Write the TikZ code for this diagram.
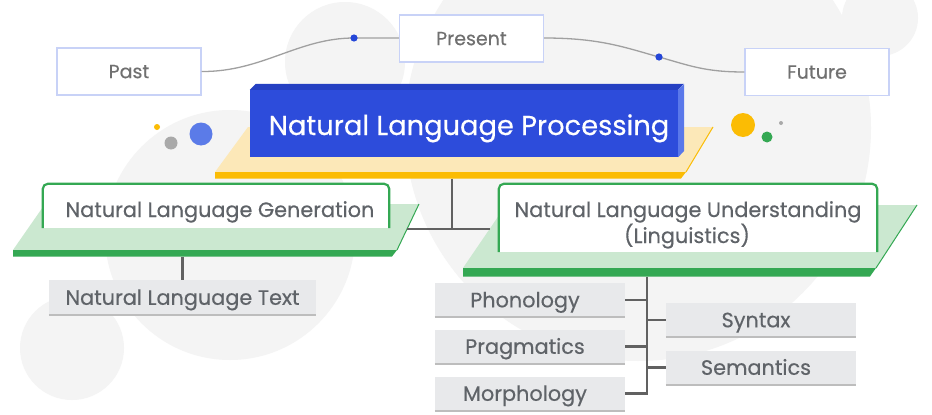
\documentclass[tikz,border=0pt]{standalone}
\usepackage{fontspec}
\setmainfont[FakeBold=0.4]{Poppins}
\definecolor{bgc}{HTML}{F4F4F4}
\definecolor{txtgray}{HTML}{5F6368}
\definecolor{tltext}{HTML}{707070}
\definecolor{tlborder}{HTML}{C8D2F7}
\definecolor{tlline}{HTML}{A0A0A0}
\definecolor{dotblue}{HTML}{2446D8}
\definecolor{nlpblue}{HTML}{2D4CDB}
\definecolor{nlptop}{HTML}{2540C2}
\definecolor{nlpside}{HTML}{5A78EA}
\definecolor{ylight}{HTML}{FCE8B8}
\definecolor{ydark}{HTML}{FBBC04}
\definecolor{glight}{HTML}{CBE8D0}
\definecolor{gdark}{HTML}{34A853}
\definecolor{boxgray}{HTML}{E8E9EB}
\definecolor{boxline}{HTML}{BDBDBD}
\definecolor{conncol}{HTML}{616161}
\definecolor{decblue}{HTML}{5B7BE8}
\definecolor{decgray}{HTML}{A9A9A9}
\begin{document}
\begin{tikzpicture}[x=1pt,y=-1pt,
  txt/.style={text=txtgray,font=\fontsize{20.8}{25}\selectfont,inner sep=0pt},
  graybox/.style={fill=boxgray,minimum width=190pt,minimum height=34pt,inner sep=0pt,
    text=txtgray,font=\fontsize{20.8}{25}\selectfont,text height=14.6pt,text depth=0pt},
  tlbox/.style={draw=tlborder,line width=1.2pt,fill=white,minimum width=144pt,minimum height=47pt,
    inner sep=0pt,text=tltext,font=\fontsize{19}{23}\selectfont,text height=13.3pt,text depth=0pt},
  tl/.style={draw=tlline,line width=1.3pt},
  wbox/.style={fill=white,inner sep=0pt},
  gborder/.style={draw=gdark,line width=2.2pt,rounded corners=5pt},
  conn/.style={draw=conncol,line width=2.2pt},
  bline/.style={draw=boxline,line width=2pt}]
\useasboundingbox (0,0) rectangle (932,415);
\clip (0,0) rectangle (932,415);
\fill[white] (0,0) rectangle (932,415);
% background circles
\fill[bgc] (638,128) circle (233);
\fill[bgc] (345,62) circle (60);
\fill[bgc] (230,235) circle (125);
\fill[bgc] (72,348) circle (52);
\fill[bgc] (880,18) circle (38);
% timeline
\node[tlbox] (past) at (129,71.5) {Past};
\node[tlbox] (present) at (471.5,38.5) {Present};
\node[tlbox] (future) at (817,72) {Future};
\coordinate (d1) at (354,38);
\coordinate (d2) at (659,57);
\draw[tl] (past.east) .. controls (262,72) and (298,38) .. (d1) -- (present.west |- d1);
\draw[tl] (present.east |- d1) .. controls (600,38) and (625,47.5) .. (d2) .. controls (690,65.7) and (705,72) .. (future.west);
\fill[dotblue] (d1) circle (3.6);
\fill[dotblue] (d2) circle (3.6);
% decorative dots
\fill[ydark] (157,127) circle (3);
\fill[decgray] (171,143) circle (6.5);
\fill[decblue] (201,134) circle (11.5);
\fill[ydark] (743,125) circle (12);
\fill[gdark] (767,137) circle (5.5);
\fill[decgray] (781,123) circle (2);
% yellow platform
\fill[ylight] (248,127) -- (713,127) -- (686,172) -- (215,172) -- cycle;
\fill[ydark] (215,172) -- (686,172) -- (681,178.5) -- (215,178.5) -- cycle;
\draw[ydark,line width=1pt] (686,172) -- (713,127);
% NLP block
\node[fill=nlpblue,minimum width=428pt,minimum height=67pt,inner sep=0pt] (nlp) at (464,123.5) {};
\fill[nlptop] (nlp.north west) -- ++(6,-6) -- ++(428,0) -- (nlp.north east) -- cycle;
\fill[nlpside] (nlp.north east) -- ++(6,-6) -- ++(0,67) -- (nlp.south east) -- cycle;
\node[text=white,font=\fontsize{27.3}{32}\selectfont,inner sep=0pt,anchor=base] (nlpt) at (469,135) {Natural Language Processing};
% NLG platform and box
\fill[glight] (45,204) -- (419,204) -- (397,250) -- (13,250) -- cycle;
\fill[gdark] (13,250) -- (397,250) -- (392,256.5) -- (13,256.5) -- cycle;
\draw[gdark,line width=1pt] (397,250) -- (419,204);
\node[wbox,minimum width=346pt,minimum height=44pt] (nlg) at (216,206) {};
\draw[gborder] (nlg.south west) -- (nlg.north west) -- (nlg.north east) -- (nlg.south east);
\node[txt,anchor=base] (nlgt) at (220,217) {Natural Language Generation};
% NLU platform and box
\fill[glight] (506,205) -- (917,205) -- (876,268) -- (463,268) -- cycle;
\fill[gdark] (463,268) -- (876,268) -- (870,276.5) -- (463,276.5) -- cycle;
\draw[gdark,line width=1pt] (876,268) -- (917,205);
\node[wbox,minimum width=378pt,minimum height=68pt] (nlu) at (688,218) {};
\draw[gborder] (nlu.south west) -- (nlu.north west) -- (nlu.north east) -- (nlu.south east);
\node[txt,anchor=base] (nlut1) at (688,217) {Natural Language Understanding};
\node[txt,anchor=base] (nlut2) at (687,243) {(Linguistics)};
% connectors from NLP
\coordinate (ybot) at (452,178.5);
\coordinate (jn) at (452,229);
\coordinate (nlgR) at (407,229);
\coordinate (nluL) at (490,229);
\draw[conn] (ybot) -- (jn);
\draw[conn] (nlgR) -- (nluL);
% children
\node[graybox,minimum width=267pt,minimum height=35pt] (nlt) at (182.5,297.5) {Natural Language Text};
\node[graybox] (pho) at (530,300) {\hspace*{-10pt}Phonology};
\node[graybox] (pra) at (530,346.5) {\hspace*{-10pt}Pragmatics};
\node[graybox] (mor) at (530,393.5) {\hspace*{-10pt}Morphology};
\node[graybox] (syn) at (761,320) {\hspace*{-10pt}Syntax};
\node[graybox] (sem) at (761,367.5) {\hspace*{-10pt}Semantics};
\foreach \n in {nlt,pho,pra,mor,syn,sem}
  \draw[bline] (\n.south west) -- (\n.south east);
\coordinate (nlgb) at (182.5,256.5);
\draw[conn] (nlgb) -- (nlt.north);
\coordinate (nlub) at (647,276.5);
\draw[conn] (nlub) |- (mor.east);
\draw[conn] (pho.east) -- (pho.east -| nlub);
\draw[conn] (pra.east) -- (pra.east -| nlub);
\draw[conn] (syn.west) -- (syn.west -| nlub);
\draw[conn] (sem.west) -- (sem.west -| nlub);
\end{tikzpicture}
\end{document}
